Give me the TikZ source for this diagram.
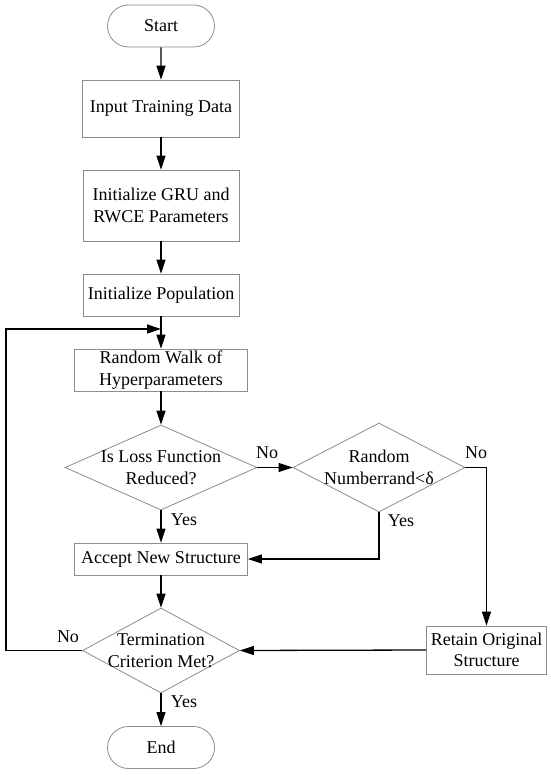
\documentclass[tikz,border=0pt]{standalone}
\usepackage{fontspec}
\setmainfont{Liberation Serif}
\usetikzlibrary{shapes.geometric,shapes.misc,arrows.meta}
\begin{document}
\begin{tikzpicture}[x=1pt,y=-1pt,
  every node/.style={font=\fontsize{18}{21.6}\selectfont},
  box/.style={draw=black!45, line width=0.8pt, rectangle, inner sep=0pt, align=center},
  term/.style={draw=black!45, line width=0.8pt, rounded rectangle, minimum width=107pt, minimum height=42pt, inner sep=0pt},
  dia/.style={draw=black!45, line width=0.8pt, diamond, inner sep=0pt},
  txt/.style={align=center, inner sep=0pt},
  lbl/.style={inner sep=0pt},
  arr/.style={draw=black, line width=1.3pt, -{Triangle[length=14pt,width=9pt]}}]
\useasboundingbox (0,0) rectangle (550,775);
\node[term] (start) at (161,26) {Start};
\node[box, minimum width=157pt, minimum height=57pt] (inp) at (161,108.5) {Input Training Data};
\node[box, minimum width=156pt, minimum height=71pt] (init) at (161,205.5) {Initialize GRU and\\RWCE Parameters};
\node[box, minimum width=156pt, minimum height=42pt] (pop) at (161,295) {Initialize Population};
\node[box, minimum width=173pt, minimum height=42pt] (rw) at (161,370) {Random Walk of\\Hyperparameters};
\node[dia, minimum width=192pt, minimum height=85pt] (d1) at (161,467.5) {};
\node[txt] (d1t) at (161,467.5) {Is Loss Function\\Reduced?};
\node[dia, minimum width=172pt, minimum height=89pt] (d2) at (379,467.5) {};
\node[txt] (d2t) at (379,467.5) {Random\\Numberrand<δ};
\node[box, minimum width=173pt, minimum height=32pt] (acc) at (161,559) {Accept New Structure};
\node[dia, minimum width=157pt, minimum height=85pt] (d3) at (161,650.5) {};
\node[txt] (d3t) at (161,650.5) {Termination\\Criterion Met?};
\node[box, minimum width=120pt, minimum height=48pt] (ret) at (486.5,650) {Retain Original\\Structure};
\node[term] (end) at (161,747.5) {End};
\node[lbl] (no1) at (267,453) {No};
\node[lbl] (no2) at (476,453) {No};
\node[lbl] (yes1) at (184,520) {Yes};
\node[lbl] (yes2) at (401,521) {Yes};
\node[lbl] (no3) at (68,637) {No};
\node[lbl] (yes3) at (184,702) {Yes};
\coordinate (lp) at (161,329);
\coordinate (lc) at (6,329);
\draw[arr] (start) -- (inp);
\draw[arr] (inp) -- (init);
\draw[arr] (init) -- (pop);
\draw[arr] (pop) -- (rw);
\draw[arr] (rw) -- (d1);
\draw[arr] (d1) -- (acc);
\draw[arr] (acc) -- (d3);
\draw[arr] (d3) -- (end);
\draw[arr] (d1.east) -- (d2.west);
\draw[arr] (d2.south) |- (acc.east);
\draw[arr] (d2.east) -| (ret.north);
\draw[arr] (ret.west) -- (d3.east);
\draw[arr] (d3.west) -| (lc) -- (lp);
\end{tikzpicture}
\end{document}
